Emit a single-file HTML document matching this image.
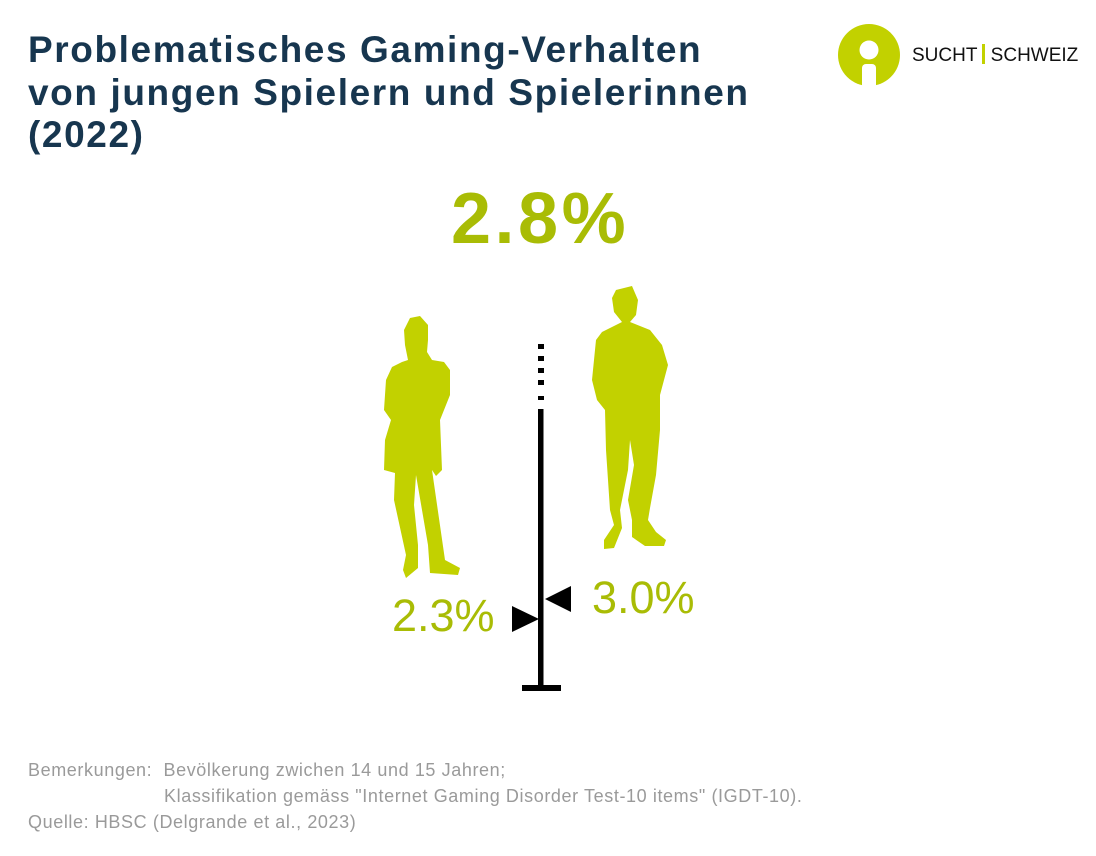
<!DOCTYPE html>
<html><head><meta charset="utf-8"><style>
body{margin:0;width:1096px;height:856px;background:#fff;overflow:hidden;position:relative;font-family:"Liberation Sans",sans-serif}
.t{position:absolute;left:28px;top:29px;font-size:37px;font-weight:bold;line-height:42.5px;color:#17364f;letter-spacing:1.6px}
.big{position:absolute;left:451px;top:178px;font-size:72px;font-weight:bold;color:#a9bc05;letter-spacing:3.5px}
.lab{position:absolute;font-size:45px;color:#a9bc05}
.n{position:absolute;font-size:18px;color:#9a9a9a;letter-spacing:0.6px;white-space:nowrap}
</style></head><body>
<div class="t">Problematisches Gaming-Verhalten<br>von jungen Spielern und Spielerinnen<br>(2022)</div>
<svg style="position:absolute;left:836px;top:23px" width="66" height="66"><circle cx="33" cy="32" r="31" fill="#c2d100"/><circle cx="33" cy="27" r="9.5" fill="#fff"/><rect x="26" y="41" width="14" height="25" rx="4" fill="#fff"/></svg>
<div style="position:absolute;left:912px;top:44px;font-size:19px;color:#111;white-space:nowrap">SUCHT <span style="display:inline-block;width:3px;height:20px;background:#c2d100;vertical-align:-3px"></span> SCHWEIZ</div>
<div class="big">2.8%</div>
<svg style="position:absolute;left:0;top:0" width="1096" height="856">
<g fill="#c2d100">
<path d="M410 318 L420 316 L428 325 L428 340 L427 352 L432 360 L444 362 L450 370 L450 395 L444 410 L440 420 L442 470 L436 476 L432 470 L445 560 L460 568 L458 575 L430 573 L428 545 L416 475 L414 505 L418 545 L418 568 L406 578 L403 570 L406 555 L394 500 L395 473 L384 470 L385 440 L391 420 L384 410 L386 380 L392 367 L402 362 L408 360 L405 345 L404 330 Z"/>
<path d="M616 290 L632 286 L638 300 L636 315 L630 322 L650 330 L662 345 L668 365 L660 395 L660 430 L656 475 L650 508 L648 520 L656 532 L666 540 L664 546 L645 546 L632 537 L632 520 L628 500 L634 465 L630 440 L628 470 L620 510 L622 528 L614 548 L604 549 L604 540 L614 525 L610 510 L606 450 L605 410 L597 400 L592 380 L596 340 L602 332 L622 322 L614 312 L612 298 Z"/>
</g>
<g fill="#000">
<rect x="538" y="344" width="6" height="5"/><rect x="538" y="356" width="6" height="5"/><rect x="538" y="368" width="6" height="5"/><rect x="538" y="380" width="6" height="5"/><rect x="538" y="396" width="6" height="4"/>
<rect x="538" y="409" width="5.5" height="280"/>
<rect x="522" y="685" width="39" height="6"/>
<polygon points="512,606 512,632 539,619"/>
<polygon points="571,586 571,612 545,599"/>
</g>
</svg>
<div class="lab" style="left:392px;top:590px">2.3%</div>
<div class="lab" style="left:592px;top:572px">3.0%</div>
<div class="n" style="left:28px;top:760px">Bemerkungen:&nbsp; Bevölkerung zwichen 14 und 15 Jahren;</div>
<div class="n" style="left:164px;top:786px">Klassifikation gemäss "Internet Gaming Disorder Test-10 items" (IGDT-10).</div>
<div class="n" style="left:28px;top:812px">Quelle: HBSC (Delgrande et al., 2023)</div>
</body></html>
